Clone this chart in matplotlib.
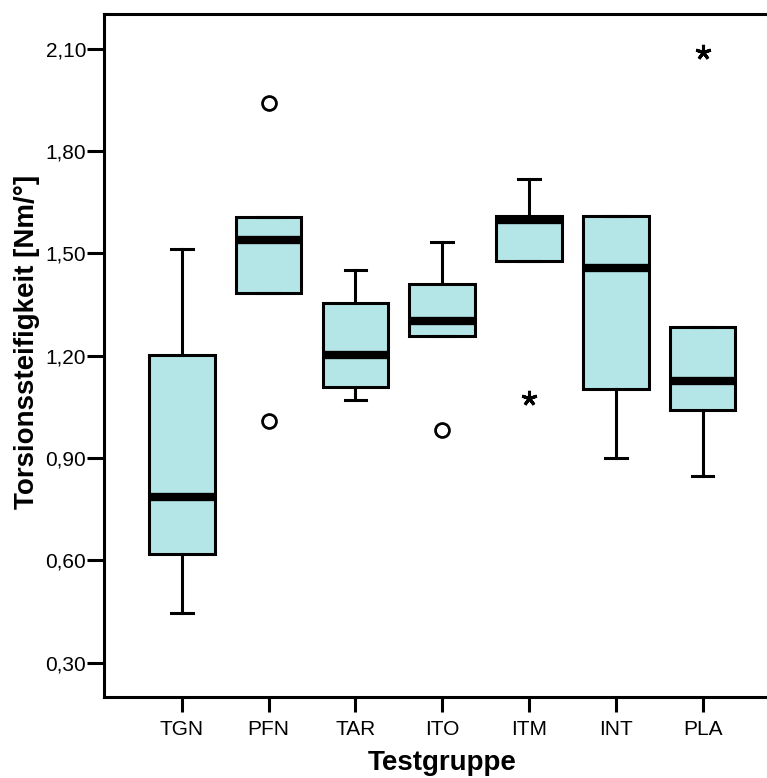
import matplotlib
matplotlib.use("Agg")
import matplotlib.pyplot as plt

# ---- data ----
groups = ["TGN", "PFN", "TAR", "ITO", "ITM", "INT", "PLA"]
whislo = [0.445, 1.382, 1.070, 1.257, 1.478, 0.901, 0.847]
q1     = [0.618, 1.382, 1.109, 1.257, 1.478, 1.102, 1.040]
med    = [0.786, 1.538, 1.202, 1.301, 1.597, 1.456, 1.125]
q3     = [1.203, 1.607, 1.355, 1.409, 1.610, 1.610, 1.283]
whishi = [1.511, 1.607, 1.451, 1.534, 1.718, 1.610, 1.283]
# outliers (circles) and extremes (stars) per group
outlier_groups = ["PFN", "PFN", "ITO"]
outlier_values = [1.941, 1.008, 0.982]
extreme_groups = ["ITM", "PLA"]
extreme_values = [1.075, 2.089]
yticks = [0.30, 0.60, 0.90, 1.20, 1.50, 1.80, 2.10]

plt.rcParams['font.family'] = ['Liberation Sans', 'DejaVu Sans']

fig = plt.figure(figsize=(7.67, 7.78), dpi=100)
ax = fig.add_axes([0.136, 0.1045, 0.881, 0.877])

stats = []
for i, g in enumerate(groups):
    stats.append(dict(label=g, whislo=whislo[i], q1=q1[i], med=med[i],
                      q3=q3[i], whishi=whishi[i], fliers=[]))

positions = list(range(1, len(groups) + 1))
ax.bxp(stats, positions=positions, widths=0.757, patch_artist=True,
       showfliers=False, capwidths=0.25,
       boxprops=dict(facecolor="#b5e6e7", edgecolor="black", linewidth=2.2),
       medianprops=dict(color="black", linewidth=6, solid_capstyle="butt"),
       whiskerprops=dict(color="black", linewidth=2.2),
       capprops=dict(color="black", linewidth=2.2))

pos_of = {g: p for g, p in zip(groups, positions)}
ax.plot([pos_of[g] for g in outlier_groups], outlier_values, linestyle="none",
        marker="o", markersize=10, markerfacecolor="white",
        markeredgecolor="black", markeredgewidth=2.0, zorder=5)
ax.plot([pos_of[g] for g in extreme_groups], extreme_values, linestyle="none",
        marker=(5, 2, 0), markersize=11, markeredgecolor="black",
        markeredgewidth=2.2, zorder=5)

ax.set_xlim(1 - 0.893, len(groups) + 0.893)
ax.set_ylim(0.20, 2.20)
ax.set_yticks(yticks)
ax.set_yticklabels([f"{v:.2f}".replace(".", ",") for v in yticks])
ax.set_xticks(positions)
ax.set_xticklabels(groups)

for s in ax.spines.values():
    s.set_linewidth(2.2)
ax.tick_params(axis="y", length=12, width=2.2, labelsize=15, pad=1)
ax.tick_params(axis="x", length=11, width=2.2, labelsize=15, pad=6)

ax.set_ylabel("Torsionssteifigkeit [Nm/°]", fontsize=20, fontweight="bold", labelpad=6)
ax.yaxis.set_label_coords(-0.095, 0.52)
ax.set_xlabel("Testgruppe", fontsize=20, fontweight="bold", labelpad=8)

fig.savefig("out.png", dpi=100)
